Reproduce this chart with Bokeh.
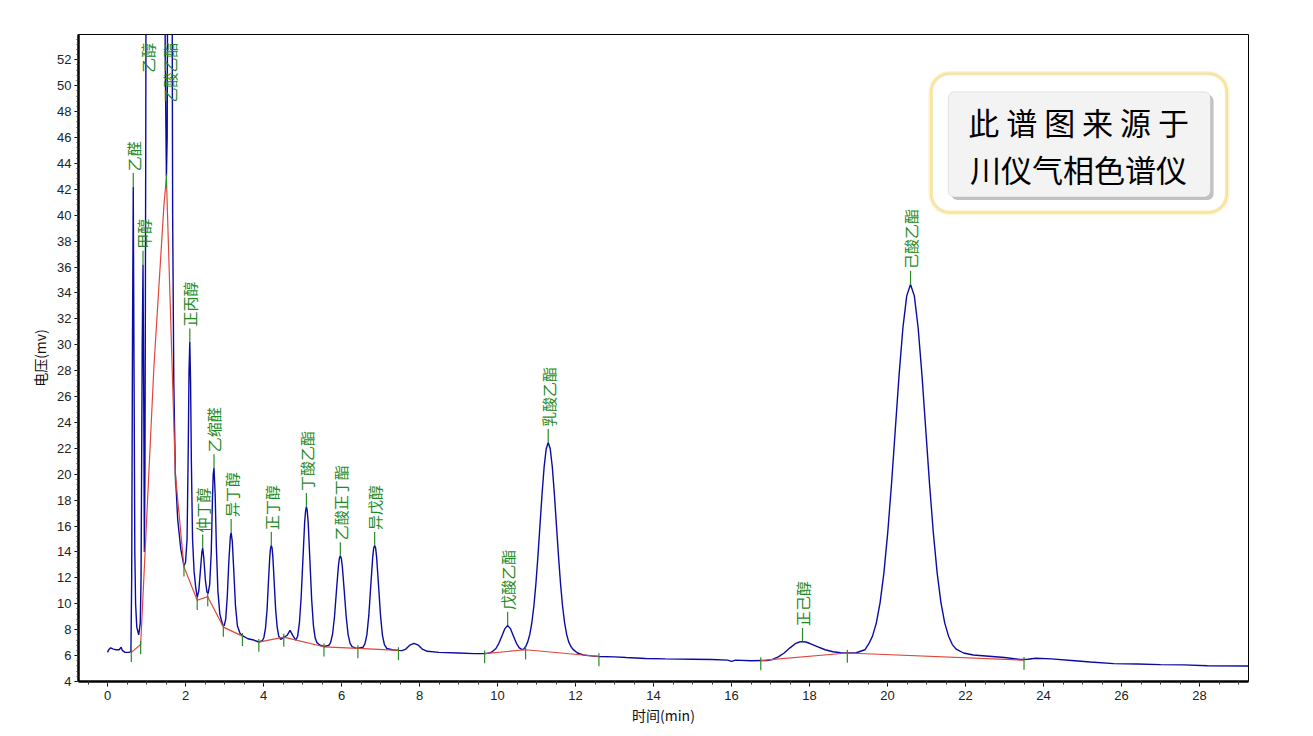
import numpy as np
from bokeh.plotting import figure
from bokeh.models import Range1d, SingleIntervalTicker, BoxAnnotation, Label, ColumnDataSource
from bokeh.core.properties import value
from bokeh.embed import file_html
from bokeh.resources import INLINE

# ---------------- data ----------------
time_min = [0.00, 0.03, 0.08, 0.15, 0.22, 0.30, 0.35, 0.38, 0.45, 0.55, 0.60,
            0.62, 0.64, 0.66, 0.68, 0.70, 0.72, 0.75, 0.80, 0.84,
            0.86, 0.89, 0.91, 0.93, 0.945, 0.96, 0.98, 1.00, 1.45, 1.48, 1.51, 1.53,
            1.56, 1.64, 1.67, 1.70, 1.74, 1.80, 1.88, 1.96,
            2.00, 2.04, 2.07, 2.09, 2.11, 2.13, 2.15, 2.18, 2.22, 2.26, 2.30,
            2.34, 2.38, 2.42, 2.44, 2.47, 2.51, 2.55, 2.58,
            2.62, 2.66, 2.69, 2.71, 2.73, 2.76, 2.79, 2.83, 2.88, 2.95, 2.99,
            3.03, 3.07, 3.11, 3.15, 3.17, 3.20, 3.24, 3.28, 3.33, 3.40, 3.48, 3.60, 3.75, 3.88,
            3.97, 4.01, 4.05, 4.09, 4.125, 4.16, 4.18, 4.20, 4.22, 4.24, 4.275, 4.31, 4.35, 4.39, 4.44, 4.52,
            4.60, 4.68, 4.76, 4.83,
            4.875, 4.92, 4.965, 5.01, 5.055, 5.08, 5.10, 5.12, 5.145, 5.19, 5.235, 5.28, 5.325, 5.37, 5.45, 5.55,
            5.67, 5.72, 5.77, 5.82, 5.87, 5.92, 5.945, 5.97, 5.995, 6.02, 6.07, 6.12, 6.17, 6.22, 6.27, 6.35, 6.42,
            6.55, 6.60, 6.65, 6.70, 6.75, 6.80, 6.825, 6.85, 6.875, 6.90, 6.95, 7.00, 7.05, 7.10, 7.16, 7.30, 7.46,
            7.55, 7.65, 7.75, 7.86, 7.97, 8.07, 8.20, 8.50, 9.00, 9.40, 9.67,
            9.80, 9.885, 9.96, 10.035, 10.11, 10.185, 10.26, 10.335, 10.41, 10.485, 10.56, 10.62,
            10.67, 10.7225, 10.775, 10.8275, 10.88, 10.9325, 10.985, 11.0375, 11.09, 11.1425,
            11.195, 11.2475, 11.30, 11.3525, 11.405, 11.4575, 11.51, 11.5625, 11.615, 11.6675,
            11.72, 11.7725, 11.825, 11.8775, 11.93, 12.05, 12.20, 12.40, 12.60,
            13.00, 13.30, 13.80, 14.30, 15.00, 15.50, 15.90, 16.00, 16.10, 16.50,
            16.90, 17.05, 17.20, 17.35, 17.50, 17.65, 17.74, 17.82, 17.90, 18.00, 18.20, 18.40, 18.60, 18.80,
            19.00, 19.20, 19.42, 19.5175, 19.615, 19.7125, 19.81, 19.9075, 20.005, 20.1025, 20.20,
            20.2975, 20.395, 20.4925, 20.59, 20.6875, 20.785, 20.8825, 20.98, 21.0775, 21.175,
            21.2725, 21.37, 21.4675, 21.565, 21.6625, 21.76, 21.95, 22.20, 22.60, 23.00, 23.40,
            23.60, 23.80, 24.20, 24.80, 25.20, 25.80, 26.40, 27.00, 27.60, 28.20, 29.26]
signal_mv = [6.25, 6.45, 6.60, 6.50, 6.45, 6.45, 6.65, 6.40, 6.25, 6.25, 6.30,
             12.0, 30.0, 42.2, 28.0, 14.0, 10.0, 8.2, 7.6, 8.5,
             12.0, 30.0, 36.2, 25.0, 14.0, 20.0, 45.0, 80.0, 80.0, 52.0, 43.0, 46.0,
             80.0, 80.0, 40.0, 27.0, 20.0, 16.5, 14.2, 12.9,
             13.2, 15.0, 22.0, 28.0, 30.2, 27.0, 21.0, 15.0, 12.5, 11.3, 10.5,
             11.0, 12.5, 14.0, 14.3, 13.5, 11.8, 10.9, 10.8,
             11.5, 14.0, 18.0, 20.0, 20.5, 18.5, 14.5, 11.0, 9.2, 8.4, 8.3,
             8.8, 10.5, 13.2, 15.2, 15.5, 14.8, 12.4, 9.9, 8.3, 7.7, 7.5, 7.3, 7.2, 7.05,
             7.15, 7.4, 8.1, 9.5, 11.6, 13.6, 14.3, 14.5, 14.3, 13.6, 11.6, 9.6, 8.2, 7.5, 7.25, 7.4,
             7.55, 7.95, 7.5, 7.2,
             7.5, 8.5, 10.5, 13.4, 16.3, 17.2, 17.5, 17.2, 16.3, 13.3, 10.3, 8.3, 7.35, 7.0, 6.8, 6.7,
             6.78, 7.0, 7.65, 9.0, 11.0, 12.9, 13.5, 13.7, 13.5, 12.9, 11.0, 9.0, 7.6, 6.95, 6.7, 6.6, 6.58,
             6.64, 6.9, 7.6, 9.1, 11.4, 13.6, 14.3, 14.5, 14.3, 13.6, 11.4, 9.1, 7.55, 6.85, 6.55, 6.45, 6.4,
             6.38, 6.5, 6.8, 6.95, 6.8, 6.5, 6.33, 6.25, 6.2, 6.15, 6.15,
             6.2, 6.35, 6.55, 6.95, 7.5, 8.06, 8.33, 8.06, 7.5, 6.95, 6.6, 6.48,
             6.5, 6.7, 7.06, 7.63, 8.53, 9.83, 11.58, 13.72, 16.11, 18.50,
             20.56, 21.95, 22.45, 21.95, 20.56, 18.50, 16.11, 13.72, 11.58, 9.83,
             8.53, 7.63, 7.06, 6.72, 6.50, 6.2, 6.05, 5.98, 5.93,
             5.9, 5.85, 5.78, 5.75, 5.72, 5.70, 5.65, 5.55, 5.65, 5.60,
             5.62, 5.70, 5.90, 6.20, 6.60, 6.95, 7.05, 7.08, 7.05, 6.95, 6.70, 6.45, 6.30, 6.22,
             6.20, 6.22, 6.45, 6.90, 7.50, 8.51, 10.09, 12.39, 15.47, 19.25, 23.47,
             27.69, 31.31, 33.77, 34.65, 33.77, 31.31, 27.69, 23.47, 19.25, 15.47,
             12.39, 10.09, 8.51, 7.50, 6.85, 6.50, 6.2, 6.05, 5.95, 5.85, 5.70,
             5.72, 5.80, 5.75, 5.60, 5.50, 5.38, 5.35, 5.30, 5.28, 5.22, 5.20]

# integration baselines (red), one list per segment
baseline_t = [[0.61, 0.85, 1.19, 1.445, 1.51, 1.74, 1.96],
              [1.96, 2.30, 2.57, 2.97, 3.46],
              [3.88, 4.52, 5.55, 6.42, 7.46],
              [9.67, 10.72, 12.60],
              [16.75, 18.97, 23.50]]
baseline_mv = [[6.25, 6.85, 28.3, 40.7, 42.9, 20.0, 12.85],
               [12.85, 10.27, 10.55, 8.2, 7.5],
               [7.04, 7.43, 6.68, 6.55, 6.4],
               [6.15, 6.45, 5.93],
               [5.62, 6.2, 5.65]]

# peak start / end markers (green)
marker_t = [0.61, 0.85, 1.51, 1.74, 1.96, 2.30, 2.57, 2.97, 3.46, 3.88, 4.52, 5.55, 6.42,
            7.46, 9.67, 10.72, 12.60, 16.75, 18.97, 23.50]
marker_mv = [6.25, 6.85, 42.9, 20.0, 12.85, 10.27, 10.55, 8.2, 7.5, 7.04, 7.43, 6.68, 6.55,
             6.4, 6.15, 6.45, 5.93, 5.62, 6.2, 5.65]

# named peaks with apex on scale
peak_names = ["乙醛", "甲醇", "正丙醇", "仲丁醇", "乙缩醛", "异丁醇", "正丁醇", "丁酸乙酯",
              "乙酸正丁酯", "异戊醇", "戊酸乙酯", "乳酸乙酯", "正己醇", "己酸乙酯"]
peak_t = [0.66, 0.91, 2.11, 2.44, 2.73, 3.17, 4.20, 5.10, 5.97, 6.85, 10.26, 11.30, 17.82, 20.59]
peak_mv = [42.2, 36.2, 30.2, 14.3, 20.5, 15.5, 14.5, 17.5, 13.7, 14.5, 8.33, 22.45, 7.08, 34.65]

# named peaks that run off scale (label placed near the top)
offscale_names = ["乙醇", "乙酸乙酯"]
offscale_t = [1.03, 1.59]
offscale_label_mv = [51.0, 48.7]

x_ticks_major = 2
y_ticks_major = 2

# ---------------- figure ----------------
p = figure(width=1313, height=736, output_backend="svg", toolbar_location=None,
           x_range=Range1d(-0.744, 29.256), y_range=Range1d(4, 53.95),
           min_border_left=78, min_border_right=65, min_border_top=34, min_border_bottom=55)
p.background_fill_color = "white"
p.border_fill_color = "white"
p.outline_line_color = "black"
p.outline_line_width = 1
p.xgrid.visible = False
p.ygrid.visible = False

p.xaxis.ticker = SingleIntervalTicker(interval=x_ticks_major, num_minor_ticks=4)
p.yaxis.ticker = SingleIntervalTicker(interval=y_ticks_major, num_minor_ticks=5)
for ax in (p.xaxis, p.yaxis):
    ax.axis_line_width = 2.5
    ax.axis_line_color = "black"
    ax.major_tick_line_color = "black"
    ax.minor_tick_line_color = "#333333"
    ax.major_tick_in = 0
    ax.minor_tick_in = 0
    ax.major_label_text_font = "Liberation Sans"
    ax.major_label_text_font_size = "13px"
    ax.major_label_text_color = "#222222"
    ax.axis_label_text_font = "Noto Sans CJK SC"
    ax.axis_label_text_font_size = "14px"
    ax.axis_label_text_font_style = "normal"
    ax.axis_label_text_color = "#111111"
p.xaxis.major_tick_out = 5
p.xaxis.minor_tick_out = 3
p.yaxis.major_tick_out = 4
p.yaxis.minor_tick_out = 2
p.xaxis.major_label_standoff = 4
p.yaxis.major_label_standoff = 3
p.xaxis.axis_label = "时间(min)"
p.yaxis.axis_label = "电压(mv)"
p.xaxis.axis_label_standoff = 2
p.yaxis.axis_label_standoff = 4

# chromatogram trace
p.line(time_min, signal_mv, line_color="#0B0BA3", line_width=1.4)

# baselines
for bt, bm in zip(baseline_t, baseline_mv):
    p.line(bt, bm, line_color="#E0463A", line_width=1.2)

# start/end markers
p.segment(x0=marker_t, y0=[m + 0.25 for m in marker_mv], x1=marker_t,
          y1=[m - 0.75 for m in marker_mv], line_color="#2A8A2A", line_width=1.2)

# peak label ticks and texts
tick_len = 1.05
label_gap = 1.2
p.segment(x0=peak_t, y0=peak_mv, x1=peak_t, y1=[m + tick_len for m in peak_mv],
          line_color="#2A8A2A", line_width=1.2)
lab_src = ColumnDataSource(dict(x=peak_t + offscale_t,
                                y=[m + label_gap for m in peak_mv] + offscale_label_mv,
                                text=peak_names + offscale_names))
p.text(x="x", y="y", text="text", source=lab_src, angle=np.pi / 2,
       text_align="left", text_baseline="middle",
       text_font=value("Noto Sans CJK SC"), text_font_size="15px", text_color="#1F8A1F")

# source badge
p.add_layout(BoxAnnotation(left=21.11, right=28.71, top=50.94, bottom=40.21,
                           fill_color="white", fill_alpha=1.0,
                           line_color="#F5DC70", line_width=5, border_radius=19))
p.add_layout(BoxAnnotation(left=21.13, right=28.69, top=50.91, bottom=40.24,
                           fill_color="white", fill_alpha=1.0,
                           line_color="#E9B60C", line_width=3, border_radius=18))
p.add_layout(BoxAnnotation(left=21.64, right=28.36, top=49.29, bottom=41.17,
                           fill_color="#A8A8A8", fill_alpha=0.7,
                           line_alpha=0, border_radius=6))
p.add_layout(BoxAnnotation(left=21.56, right=28.28, top=49.52, bottom=41.40,
                           fill_color="#F3F3F3", fill_alpha=1.0,
                           line_color="#ABABAB", line_width=1, border_radius=6))
p.add_layout(Label(x=24.9, y=47.2, text="此 谱 图 来 源 于", text_align="center",
                   text_baseline="middle", text_font="Noto Sans CJK SC",
                   text_font_size="31px", text_color="black"))
p.add_layout(Label(x=24.9, y=43.64, text="川仪气相色谱仪", text_align="center",
                   text_baseline="middle", text_font="Noto Sans CJK SC",
                   text_font_size="31px", text_color="black"))

open("out.html", "w").write(file_html(p, INLINE))
